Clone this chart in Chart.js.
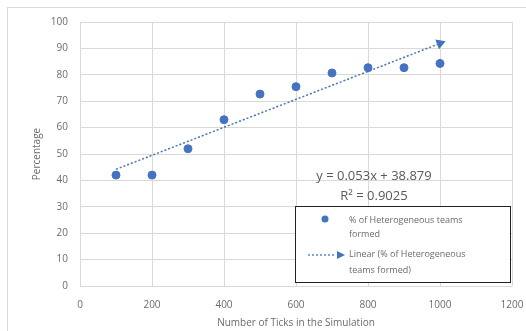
<!DOCTYPE html>
<html>
<head>
<meta charset="utf-8">
<script src="https://cdn.jsdelivr.net/npm/chart.js@4"></script>
<style>
  body { margin: 0; background: #fff; }
  #wrap { position: relative; width: 526px; height: 331px; }
  #frame { position: absolute; left: 7px; top: 7px; right: -2px; bottom: -2px; border: 1px solid #d9d9d9; }
  canvas { position: absolute; left: 0; top: 0; }
</style>
</head>
<body>
<div id="wrap"><div id="frame"></div><canvas id="chart" width="526" height="331"></canvas></div>
<script>
// data
const ticks = [100, 200, 300, 400, 500, 600, 700, 800, 900, 1000];
const heteroPct = [42, 42, 52, 63, 72.7, 75.5, 80.7, 82.7, 82.7, 84.3];
const trendX = [100, 1000];
const trendY = [44.2, 91.9];
const seriesName = '% of Heterogeneous teams formed';
const trendName = 'Linear (% of Heterogeneous teams formed)';
const eqText = 'y = 0.053x + 38.879';
const r2Text = 'R\u00b2 = 0.9025';

const blue = '#4472c4', grey = '#6b6b6b', font = "'Open Sans', sans-serif";

// equation + boxed legend inside the plot
const overlay = {
  id: 'overlay',
  afterDraw(c) {
    const ctx = c.ctx;
    ctx.save();
    ctx.fillStyle = '#595959';
    ctx.textAlign = 'center'; ctx.textBaseline = 'middle';
    ctx.font = '13px ' + font;
    ctx.fillText(eqText, 374, 176);
    ctx.fillText(r2Text, 374, 196);

    ctx.fillStyle = '#fff';
    ctx.fillRect(295, 206, 215, 76);
    ctx.strokeStyle = '#222'; ctx.lineWidth = 1;
    ctx.strokeRect(295.5, 206.5, 215, 76);

    ctx.fillStyle = blue;
    ctx.beginPath(); ctx.arc(325, 219, 3.5, 0, Math.PI * 2); ctx.fill();
    ctx.strokeStyle = blue; ctx.lineWidth = 1.3; ctx.setLineDash([2, 2]);
    ctx.beginPath(); ctx.moveTo(308, 255); ctx.lineTo(336, 255); ctx.stroke();
    ctx.setLineDash([]);
    ctx.beginPath(); ctx.moveTo(345, 255); ctx.lineTo(337, 251); ctx.lineTo(337, 259); ctx.closePath(); ctx.fill();

    ctx.fillStyle = grey; ctx.textAlign = 'left';
    ctx.font = '9px ' + font;
    ctx.fillText('% of Heterogeneous teams', 349, 220);
    ctx.fillText('formed', 349, 234);
    ctx.fillText('Linear (% of Heterogeneous', 349, 254);
    ctx.fillText('teams formed)', 349, 270);
    ctx.restore();
  }
};

new Chart(document.getElementById('chart'), {
  type: 'scatter',
  data: {
    datasets: [
      { label: seriesName, data: ticks.map((x, i) => ({ x, y: heteroPct[i] })),
        backgroundColor: blue, borderColor: blue, pointRadius: 4, order: 1 },
      { label: trendName, type: 'line', data: trendX.map((x, i) => ({ x, y: trendY[i] })),
        borderColor: blue, backgroundColor: blue, borderWidth: 1.5, borderDash: [2, 2],
        pointStyle: 'triangle', pointRadius: [0, 4.5], pointRotation: [0, 69], order: 2 }
    ]
  },
  plugins: [overlay],
  options: {
    responsive: false, animation: false,
    layout: { padding: { top: 22, right: 0, left: 27, bottom: 0 }, autoPadding: false },
    plugins: { legend: { display: false }, tooltip: { enabled: false } },
    scales: {
      x: {
        type: 'linear', min: 0, max: 1200,
        ticks: { stepSize: 200, color: grey, font: { size: 10, family: font }, padding: 13,
                 callback: v => String(v) },
        grid: { color: '#d9d9d9', drawTicks: false },
        border: { display: false },
        title: { display: true, text: 'Number of Ticks in the Simulation', color: grey, font: { size: 10, family: font }, padding: { top: 3, bottom: 2 } },
        afterFit(s) { s.height = 45; s.paddingRight = 14; s.paddingLeft = 0; }
      },
      y: {
        min: 0, max: 100,
        ticks: { stepSize: 10, color: grey, font: { size: 10, family: font }, padding: 12 },
        grid: { color: '#d9d9d9', drawTicks: false },
        border: { display: false },
        title: { display: true, text: 'Percentage', color: grey, font: { size: 10, family: font } },
        afterFit(s) { s.width = 53; s.paddingTop = 0; s.paddingBottom = 0; }
      }
    }
  }
});
</script>
</body>
</html>
